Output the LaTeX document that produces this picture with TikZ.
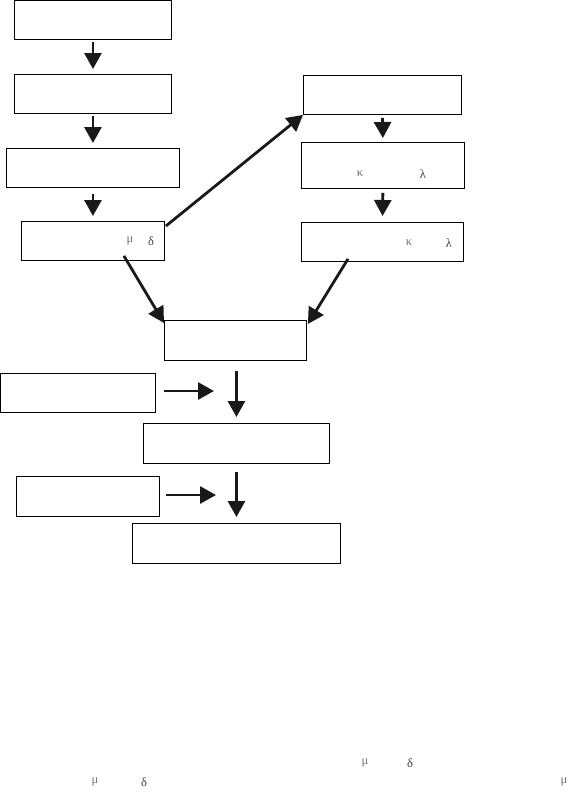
\documentclass[tikz,border=0pt]{standalone}
\usepackage{fontspec}
\setmainfont{Liberation Serif}
\usetikzlibrary{arrows.meta}
\begin{document}
\begin{tikzpicture}[x=1pt,y=-1pt,
  box/.style={draw=black, line width=0.9pt, inner sep=0pt, anchor=north west},
  arr/.style={draw=black!90, line width=2.8pt, -{Triangle[length=16pt,width=17pt]}},
  gk/.style={font=\fontsize{12.5}{13}\selectfont, text=black!55, inner sep=0pt},
  gd/.style={font=\fontsize{12.5}{13}\selectfont, text=black!75, inner sep=0pt}]
\useasboundingbox (0,0) rectangle (579,796);
% left column
\node[box, minimum width=157pt, minimum height=39pt] (b1) at (14,0) {};
\node[box, minimum width=157pt, minimum height=39pt] (b2) at (14,74) {};
\node[box, minimum width=173pt, minimum height=39pt] (b3) at (6,148) {};
\node[box, minimum width=143pt, minimum height=39pt] (b4) at (21,221) {};
% right column
\node[box, minimum width=158pt, minimum height=39pt] (r1) at (303,75) {};
\node[box, minimum width=163pt, minimum height=46pt] (r2) at (301,142) {};
\node[box, minimum width=162pt, minimum height=39pt] (r3) at (301,222) {};
% middle
\node[box, minimum width=142pt, minimum height=40pt] (m1) at (164,320) {};
\node[box, minimum width=155pt, minimum height=39pt] (l1) at (0,373) {};
\node[box, minimum width=186pt, minimum height=40pt] (m2) at (143,423) {};
\node[box, minimum width=143pt, minimum height=40pt] (l2) at (16,476) {};
\node[box, minimum width=208pt, minimum height=40pt] (m3) at (132,523) {};
% greek letters
\node[gk] (g1) at (130,241) {μ};
\node[gd] (g2) at (151,241) {δ};
\node[gk] (g3) at (360,174) {κ};
\node[gd] (g4) at (423,174) {λ};
\node[gk] (g5) at (409,243) {κ};
\node[gd] (g6) at (449,243) {λ};
\node[gk] (g7) at (365,763) {μ};
\node[gd] (g8) at (410,763) {δ};
\node[gk] (g9) at (95,782) {μ};
\node[gd] (g10) at (144,782) {δ};
\node[gk] (g11) at (564,782) {μ};
% coordinates
\coordinate (h1) at (214,391);
\coordinate (h2) at (216,495);
% vertical arrows
\draw[arr, shorten <=2pt, shorten >=5pt] (b1.south) -- (b2.north);
\draw[arr, shorten <=2pt, shorten >=5pt] (b2.south) -- (b3.north);
\draw[arr, shorten <=6pt, shorten >=5pt] (b3.south) -- (b4.north);
\draw[arr, shorten <=3pt, shorten >=4pt] (r1.south) -- (r2.north);
\draw[arr, shorten <=4pt, shorten >=6pt] (r2.south) -- (r3.north);
\draw[arr, shorten <=10pt, shorten >=6pt] ([xshift=1pt]m1.south) -- ([xshift=1pt]m1.south |- m2.north);
\draw[arr, shorten <=8pt, shorten >=6pt] (m2.south) -- (m2.south |- m3.north);
% horizontal arrows
\draw[arr, shorten <=8pt] (l1.east |- h1) -- (h1);
\draw[arr, shorten <=6pt] (l2.east |- h2) -- (h2);
% diagonals
\draw[arr] ([xshift=1pt,yshift=-5pt]b4.north east) -- (r1.south west);
\draw[arr] ([xshift=-41pt,yshift=5pt]b4.south east) -- ([yshift=-3pt]m1.north west);
\draw[arr] ([xshift=47pt,yshift=3pt]r3.south west) -- ([xshift=1pt,yshift=-4pt]m1.north east);
\end{tikzpicture}
\end{document}
